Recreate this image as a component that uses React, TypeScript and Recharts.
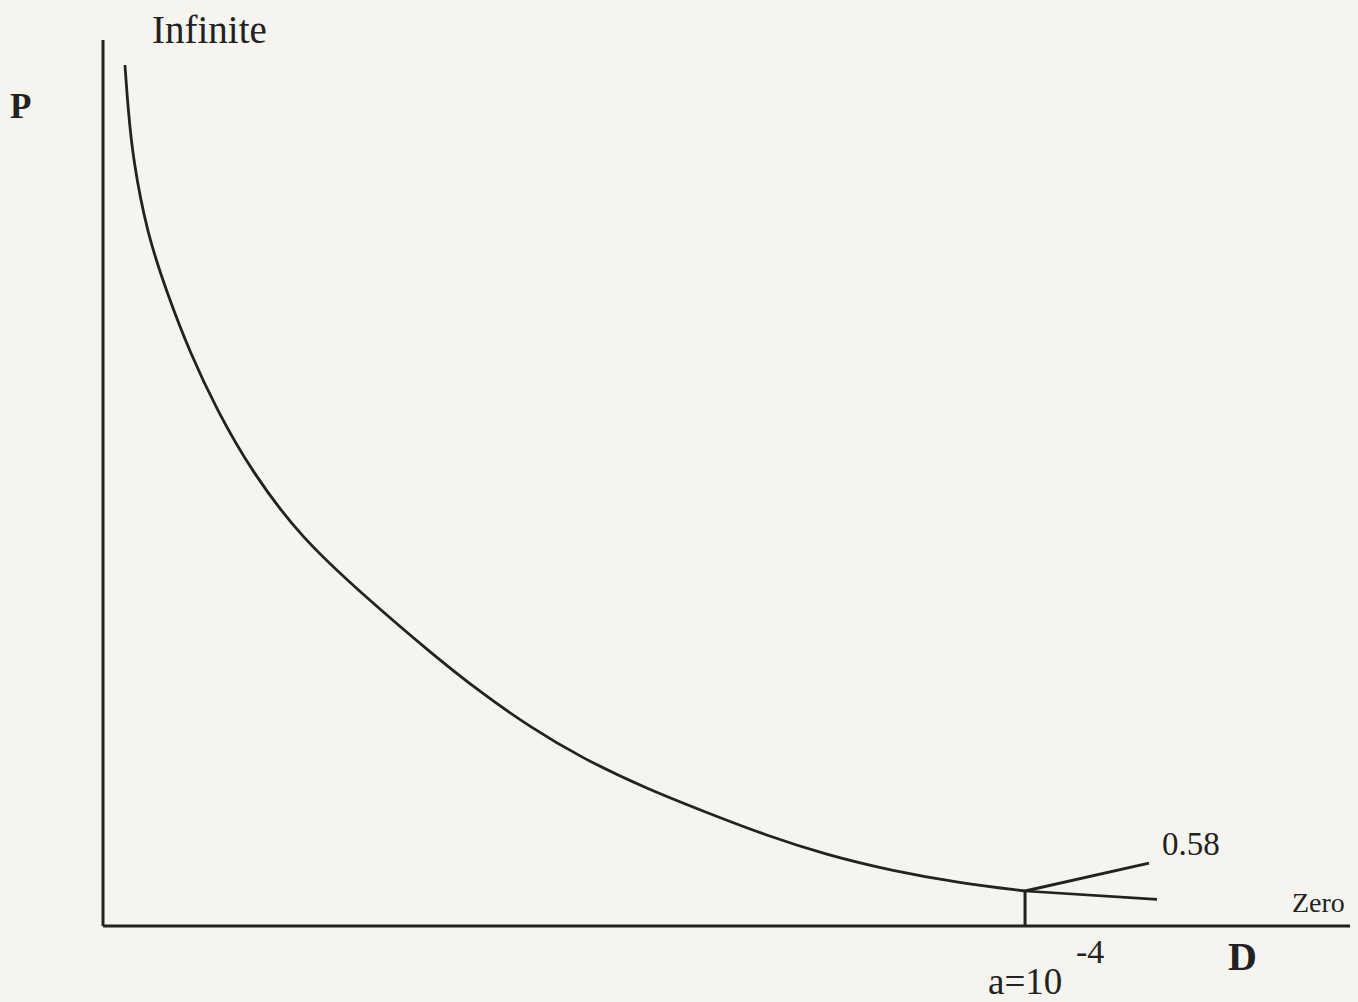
import React from 'react'
import { LineChart, Line, XAxis, YAxis, ReferenceLine } from 'recharts'

// Penalty P versus distance D (arbitrary 0-100 units on both axes)
const curveD = [1.76, 2.0, 2.41, 3.53, 5.13, 6.98, 9.14, 11.79, 15.8, 21.17, 26.22, 30.23, 34.24, 38.25, 43.62, 48.92, 53.09, 58.06, 63.35, 68.72, 73.94]
const curveP = [97.18, 92.44, 86.46, 78.22, 71.44, 64.67, 58.24, 51.6, 43.9, 37.0, 30.9, 26.41, 22.46, 19.07, 15.46, 12.53, 10.27, 8.01, 6.21, 4.85, 3.95]

// the two short branches leaving the point at D = a
const aD = 73.94
const aP = 3.95
const upperEnd = { d: 83.88, p: 7.1 }
const lowerEnd = { d: 84.52, p: 3.0 }

const curveData = curveD.map((d, i) => ({ d, p: curveP[i] }))
const upperData = [{ d: aD, p: aP }, upperEnd]
const lowerData = [{ d: aD, p: aP }, lowerEnd]

const INK = '#222222'
const PAPER = '#f6f4ee'
const FONT = '"Liberation Serif", "Times New Roman", serif'

export default function App() {
  return (
    <div style={{ position: 'absolute', left: 0, top: 0, width: 1358, height: 1002, background: PAPER, overflow: 'hidden' }}>
      <LineChart width={1358} height={1002} margin={{ top: 40, right: 8, bottom: 76, left: 103 }}>
        <XAxis type="number" dataKey="d" domain={[0, 100]} hide />
        <YAxis type="number" dataKey="p" domain={[0, 100]} hide />
        <ReferenceLine segment={[{ x: 0, y: 0 }, { x: 0, y: 100 }]} stroke={INK} strokeWidth={3} ifOverflow="visible" />
        <ReferenceLine segment={[{ x: 0, y: 0 }, { x: 100, y: 0 }]} stroke={INK} strokeWidth={3} ifOverflow="visible" />
        <ReferenceLine segment={[{ x: aD, y: 0 }, { x: aD, y: aP }]} stroke={INK} strokeWidth={3} ifOverflow="visible" />
        <Line data={curveData} dataKey="p" type="basis" stroke={INK} strokeWidth={2.8} dot={false} isAnimationActive={false} />
        <Line data={upperData} dataKey="p" type="linear" stroke={INK} strokeWidth={3} dot={false} isAnimationActive={false} />
        <Line data={lowerData} dataKey="p" type="linear" stroke={INK} strokeWidth={2.6} dot={false} isAnimationActive={false} />
      </LineChart>
      <svg width={1358} height={1002} style={{ position: 'absolute', left: 0, top: 0, pointerEvents: 'none' }}>
        <g fill={INK} fontFamily={FONT}>
          <text x={152} y={43} fontSize={39}>Infinite</text>
          <text x={10} y={118} fontSize={35} fontWeight="bold">P</text>
          <text x={1162} y={855} fontSize={33}>0.58</text>
          <text x={1292} y={912} fontSize={28}>Zero</text>
          <text x={1228} y={970} fontSize={40} fontWeight="bold">D</text>
          <text x={988} y={994} fontSize={37}>a=10</text>
          <text x={1076} y={963} fontSize={34}>-4</text>
        </g>
      </svg>
    </div>
  )
}
